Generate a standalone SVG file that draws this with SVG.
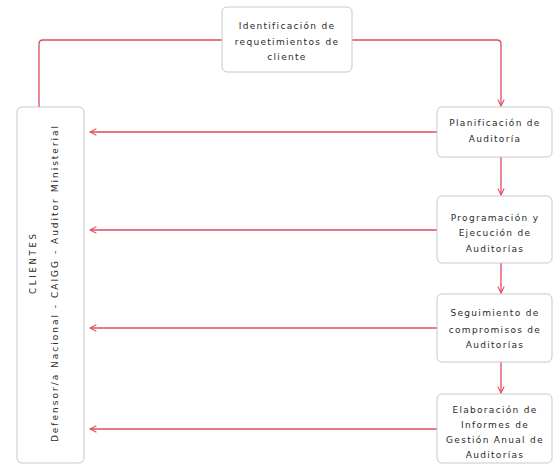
<svg xmlns="http://www.w3.org/2000/svg" width="553" height="466" viewBox="0 0 553 466">
<style>
.box{fill:#fff;stroke:#c8c8c8;stroke-width:1}
.t{font-family:"DejaVu Sans",sans-serif;font-size:9px;fill:#2a2a2a;text-anchor:middle;letter-spacing:1.3px}
.c{fill:none;stroke:#e04a5f;stroke-width:1.3}
</style>
<defs>
<marker id="a" viewBox="0 0 10 10" refX="9" refY="5" markerWidth="8" markerHeight="8" orient="auto" markerUnits="userSpaceOnUse">
<path d="M1,1 L9,5 L1,9" fill="none" stroke="#e04a5f" stroke-width="1.3"/>
</marker>
</defs>
<rect width="553" height="466" fill="#fff"/>
<g id="connectors">
<path class="c" d="M222,40 H43 Q39,40 39,44 V107"/>
<path class="c" d="M352,40 H497 Q501,40 501,44 V106" marker-end="url(#a)"/>
<path class="c" d="M501,157 V195" marker-end="url(#a)"/>
<path class="c" d="M501,263 V293" marker-end="url(#a)"/>
<path class="c" d="M501,362 V393" marker-end="url(#a)"/>
<path class="c" d="M437,132 H90" marker-end="url(#a)"/>
<path class="c" d="M437,230 H90" marker-end="url(#a)"/>
<path class="c" d="M437,328 H90" marker-end="url(#a)"/>
<path class="c" d="M437,429 H90" marker-end="url(#a)"/>
</g>
<g id="n-req">
<rect class="box" x="222" y="7" width="130" height="65" rx="5"/>
<text class="t" x="287" y="29">Identificación de</text>
<text class="t" x="287" y="45">requetimientos de</text>
<text class="t" x="287" y="60">cliente</text>
</g>
<g id="n-clientes">
<rect class="box" x="17" y="107" width="67" height="356" rx="5"/>
<text class="t" transform="translate(36,264) rotate(-90)" style="letter-spacing:0;font-size:8.5px">C L I E N T E S</text>
<text class="t" transform="translate(58,283) rotate(-90)" style="letter-spacing:2px">Defensor/a Nacional - CAIGG - Auditor Ministerial</text>
</g>
<g id="n-plan">
<rect class="box" x="437" y="107" width="115" height="50" rx="5"/>
<text class="t" x="495" y="126">Planificación de</text>
<text class="t" x="495" y="142">Auditoría</text>
</g>
<g id="n-prog">
<rect class="box" x="437" y="196" width="115" height="67" rx="5"/>
<text class="t" x="495" y="221">Programación y</text>
<text class="t" x="495" y="236">Ejecución de</text>
<text class="t" x="495" y="252">Auditorías</text>
</g>
<g id="n-seg">
<rect class="box" x="437" y="294" width="115" height="68" rx="5"/>
<text class="t" x="495" y="316">Seguimiento de</text>
<text class="t" x="495" y="333">compromisos de</text>
<text class="t" x="495" y="348">Auditorías</text>
</g>
<g id="n-elab">
<rect class="box" x="437" y="394" width="115" height="69" rx="5"/>
<text class="t" x="495" y="413">Elaboración de</text>
<text class="t" x="495" y="428">Informes de</text>
<text class="t" x="495" y="443">Gestión Anual de</text>
<text class="t" x="495" y="458">Auditorías</text>
</g>
</svg>
